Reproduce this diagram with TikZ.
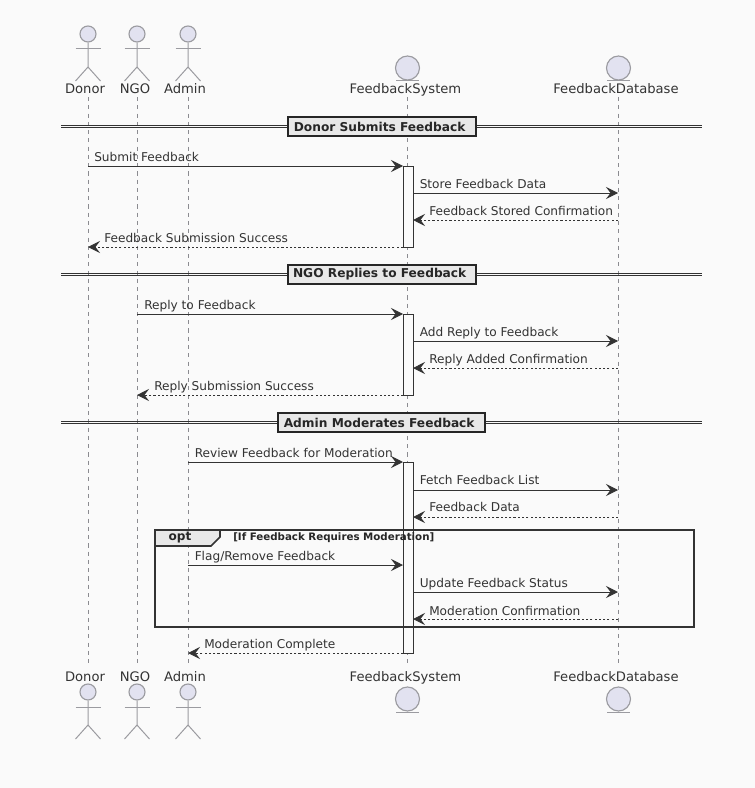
\documentclass[tikz,border=0pt]{standalone}
\usepackage{fontspec}
\setmainfont{DejaVu Sans}
\usepackage{xcolor}
\definecolor{fondo}{RGB}{250,250,250}
\definecolor{cabeza}{RGB}{226,226,240}
\definecolor{trazo}{RGB}{155,155,160}
\definecolor{tinta}{RGB}{51,51,51}
\definecolor{sepgris}{RGB}{232,232,232}
\usetikzlibrary{positioning, arrows.meta}
\tikzset{
  lifeline/.style={draw=trazo!90!black, line width=0.7pt, dash pattern=on 3.1pt off 3.1pt},
  figura/.style={draw=trazo, line width=0.75pt},
  cabecita/.style={circle, draw=trazo, fill=cabeza, line width=0.85pt, inner sep=0pt, minimum size=12pt},
  entidad/.style={circle, draw=trazo, fill=cabeza, line width=0.85pt, inner sep=0pt, minimum size=18pt},
  nombre/.style={text=tinta, font=\fontsize{9.85}{12}\selectfont, inner sep=0pt, anchor=base},
  msg/.style={draw=tinta, line width=0.72pt, -{Stealth[length=9pt,width=9pt,inset=3.4pt]}},
  ret/.style={msg, dash pattern=on 1.6pt off 1.6pt},
  msgtexto/.style={text=tinta, font=\fontsize{9.1}{11}\selectfont, inner sep=0pt, anchor=base west},
  barra/.style={draw=tinta, fill=fondo, line width=0.72pt},
  separador/.style={draw=tinta, line width=0.72pt},
  sepcaja/.style={draw=black!85, fill=sepgris, line width=1.3pt, font=\bfseries\fontsize{9.15}{11}\selectfont, text=black!85, inner sep=0pt, minimum height=14.5pt},
  marco/.style={draw=black!80, line width=1.3pt}
}
\begin{document}
\begin{tikzpicture}[x=0.75pt,y=-0.75pt]
    \useasboundingbox[fill=fondo] (0,0) rectangle (755,788);
    % coordenadas de cada fila sobre las lineas de vida
    \foreach \n/\x in {donor/88,ngo/137,admin/188,barl/403,barr/413,db/618} {
        \foreach \y in {166,193,220,247,314,341,368,395,462,490,517,565,592,619,653} {
            \coordinate (\n-\y) at (\x,\y);
        }
    }
    % lineas de vida
    \foreach \n/\x in {donor/88,ngo/137,admin/188,sys/407,db/618} {
        \coordinate (\n-top) at (\x,97);
        \coordinate (\n-bot) at (\x,667);
        \draw[lifeline] (\n-top) -- (\n-bot);
    }
    % actores arriba y abajo
    \foreach \n/\t/\x/\lx in {donor/Donor/88/85,ngo/NGO/137/135,admin/Admin/188/185} {
        \node[nombre] (\n-nom) at (\lx,94) {\t};
        \node[nombre] (\n-nomb) at (\lx,681) {\t};
        \foreach \s/\d in {t/0,b/658} {
            \node[cabecita] (\n-cab\s) at (\x,34+\d) {};
            \draw[figura] (\n-cab\s.south) -- (\x,67+\d) -- (\x-12.5,81+\d);
            \draw[figura] (\x,67+\d) -- (\x+12.5,81+\d);
            \draw[figura] (\x-12.5,49+\d) -- (\x+12.5,49+\d);
        }
    }
    % entidades
    \foreach \n/\t/\x/\lx in {sys/FeedbackSystem/407.5/405.5,db/FeedbackDatabase/618.5/616} {
        \node[nombre] (\n-nom) at (\lx,94) {\t};
        \node[nombre] (\n-nomb) at (\lx,681) {\t};
        \foreach \s/\d in {t/0,b/631} {
            \node[entidad] (\n-ent\s) at (\x,68+\d) {};
            \draw[figura] (\x-11.5,81+\d) -- (\x+11.5,81+\d);
        }
    }
    % barras de activacion
    \draw[barra] (barl-166) rectangle (barr-247);
    \draw[barra] (barl-314) rectangle (barr-395);
    \draw[barra] (barl-462) rectangle (barr-653);
    % separadores
    \foreach \n/\y/\a/\b/\t in {sepa/126.5/288/476/Donor Submits Feedback,sepb/274.5/288/476/NGO Replies to Feedback,sepc/422.5/278/485/Admin Moderates Feedback} {
        \coordinate (\n-i) at (61,\y);
        \coordinate (\n-d) at (702,\y);
        \draw[separador] ([yshift=1pt]\n-i) -- ([yshift=1pt]\n-d);
        \draw[separador] ([yshift=-1pt]\n-i) -- ([yshift=-1pt]\n-d);
        \node[sepcaja, minimum width={(\b-\a)*0.75pt}] (\n) at ({(\a+\b)/2},\y) {\t\kern3.5pt};
    }
    % primer bloque
    \draw[msg] (donor-166) -- (barl-166);
    \node[msgtexto] (m1) at (94,161.5) {Submit Feedback};
    \draw[msg] (barr-193) -- (db-193);
    \node[msgtexto] (m2) at (419.5,188.5) {Store Feedback Data};
    \draw[ret] (db-220) -- (barr-220);
    \node[msgtexto] (m3) at (429,215.5) {Feedback Stored Confirmation};
    \draw[ret] (barl-247) -- (donor-247);
    \node[msgtexto] (m4) at (104,242.5) {Feedback Submission Success};
    % segundo bloque
    \draw[msg] (ngo-314) -- (barl-314);
    \node[msgtexto] (m5) at (144,309.5) {Reply to Feedback};
    \draw[msg] (barr-341) -- (db-341);
    \node[msgtexto] (m6) at (419.5,336.5) {Add Reply to Feedback};
    \draw[ret] (db-368) -- (barr-368);
    \node[msgtexto] (m7) at (429,363.5) {Reply Added Confirmation};
    \draw[ret] (barl-395) -- (ngo-395);
    \node[msgtexto] (m8) at (154,390.5) {Reply Submission Success};
    % tercer bloque
    \draw[msg] (admin-462) -- (barl-462);
    \node[msgtexto] (m9) at (194.5,457.5) {Review Feedback for Moderation};
    \draw[msg] (barr-490) -- (db-490);
    \node[msgtexto] (m10) at (419.5,484.5) {Fetch Feedback List};
    \draw[ret] (db-517) -- (barr-517);
    \node[msgtexto] (m11) at (429,511.5) {Feedback Data};
    \draw[msg] (admin-565) -- (barl-565);
    \node[msgtexto] (m12) at (194.5,560.5) {Flag/Remove Feedback};
    \draw[msg] (barr-592) -- (db-592);
    \node[msgtexto] (m13) at (419.5,587.5) {Update Feedback Status};
    \draw[ret] (db-619) -- (barr-619);
    \node[msgtexto] (m14) at (429,615) {Moderation Confirmation};
    \draw[ret] (barl-653) -- (admin-653);
    \node[msgtexto] (m15) at (204,648.5) {Moderation Complete};
    % marco opt
    \draw[marco] (155,530) rectangle (694,627);
    \draw[marco, fill=sepgris] (155,530) -- (220,530) -- (220,537) -- (211,546) -- (155,546) -- cycle;
    \node[text=black!85, font=\bfseries\fontsize{9.05}{11}\selectfont, inner sep=0pt] (opt) at (180,538) {opt};
    \node[text=black!85, font=\bfseries\fontsize{7.7}{9}\selectfont, inner sep=0pt, anchor=west] (cond) at (233,537.5) {[If Feedback Requires Moderation]};
\end{tikzpicture}
\end{document}
